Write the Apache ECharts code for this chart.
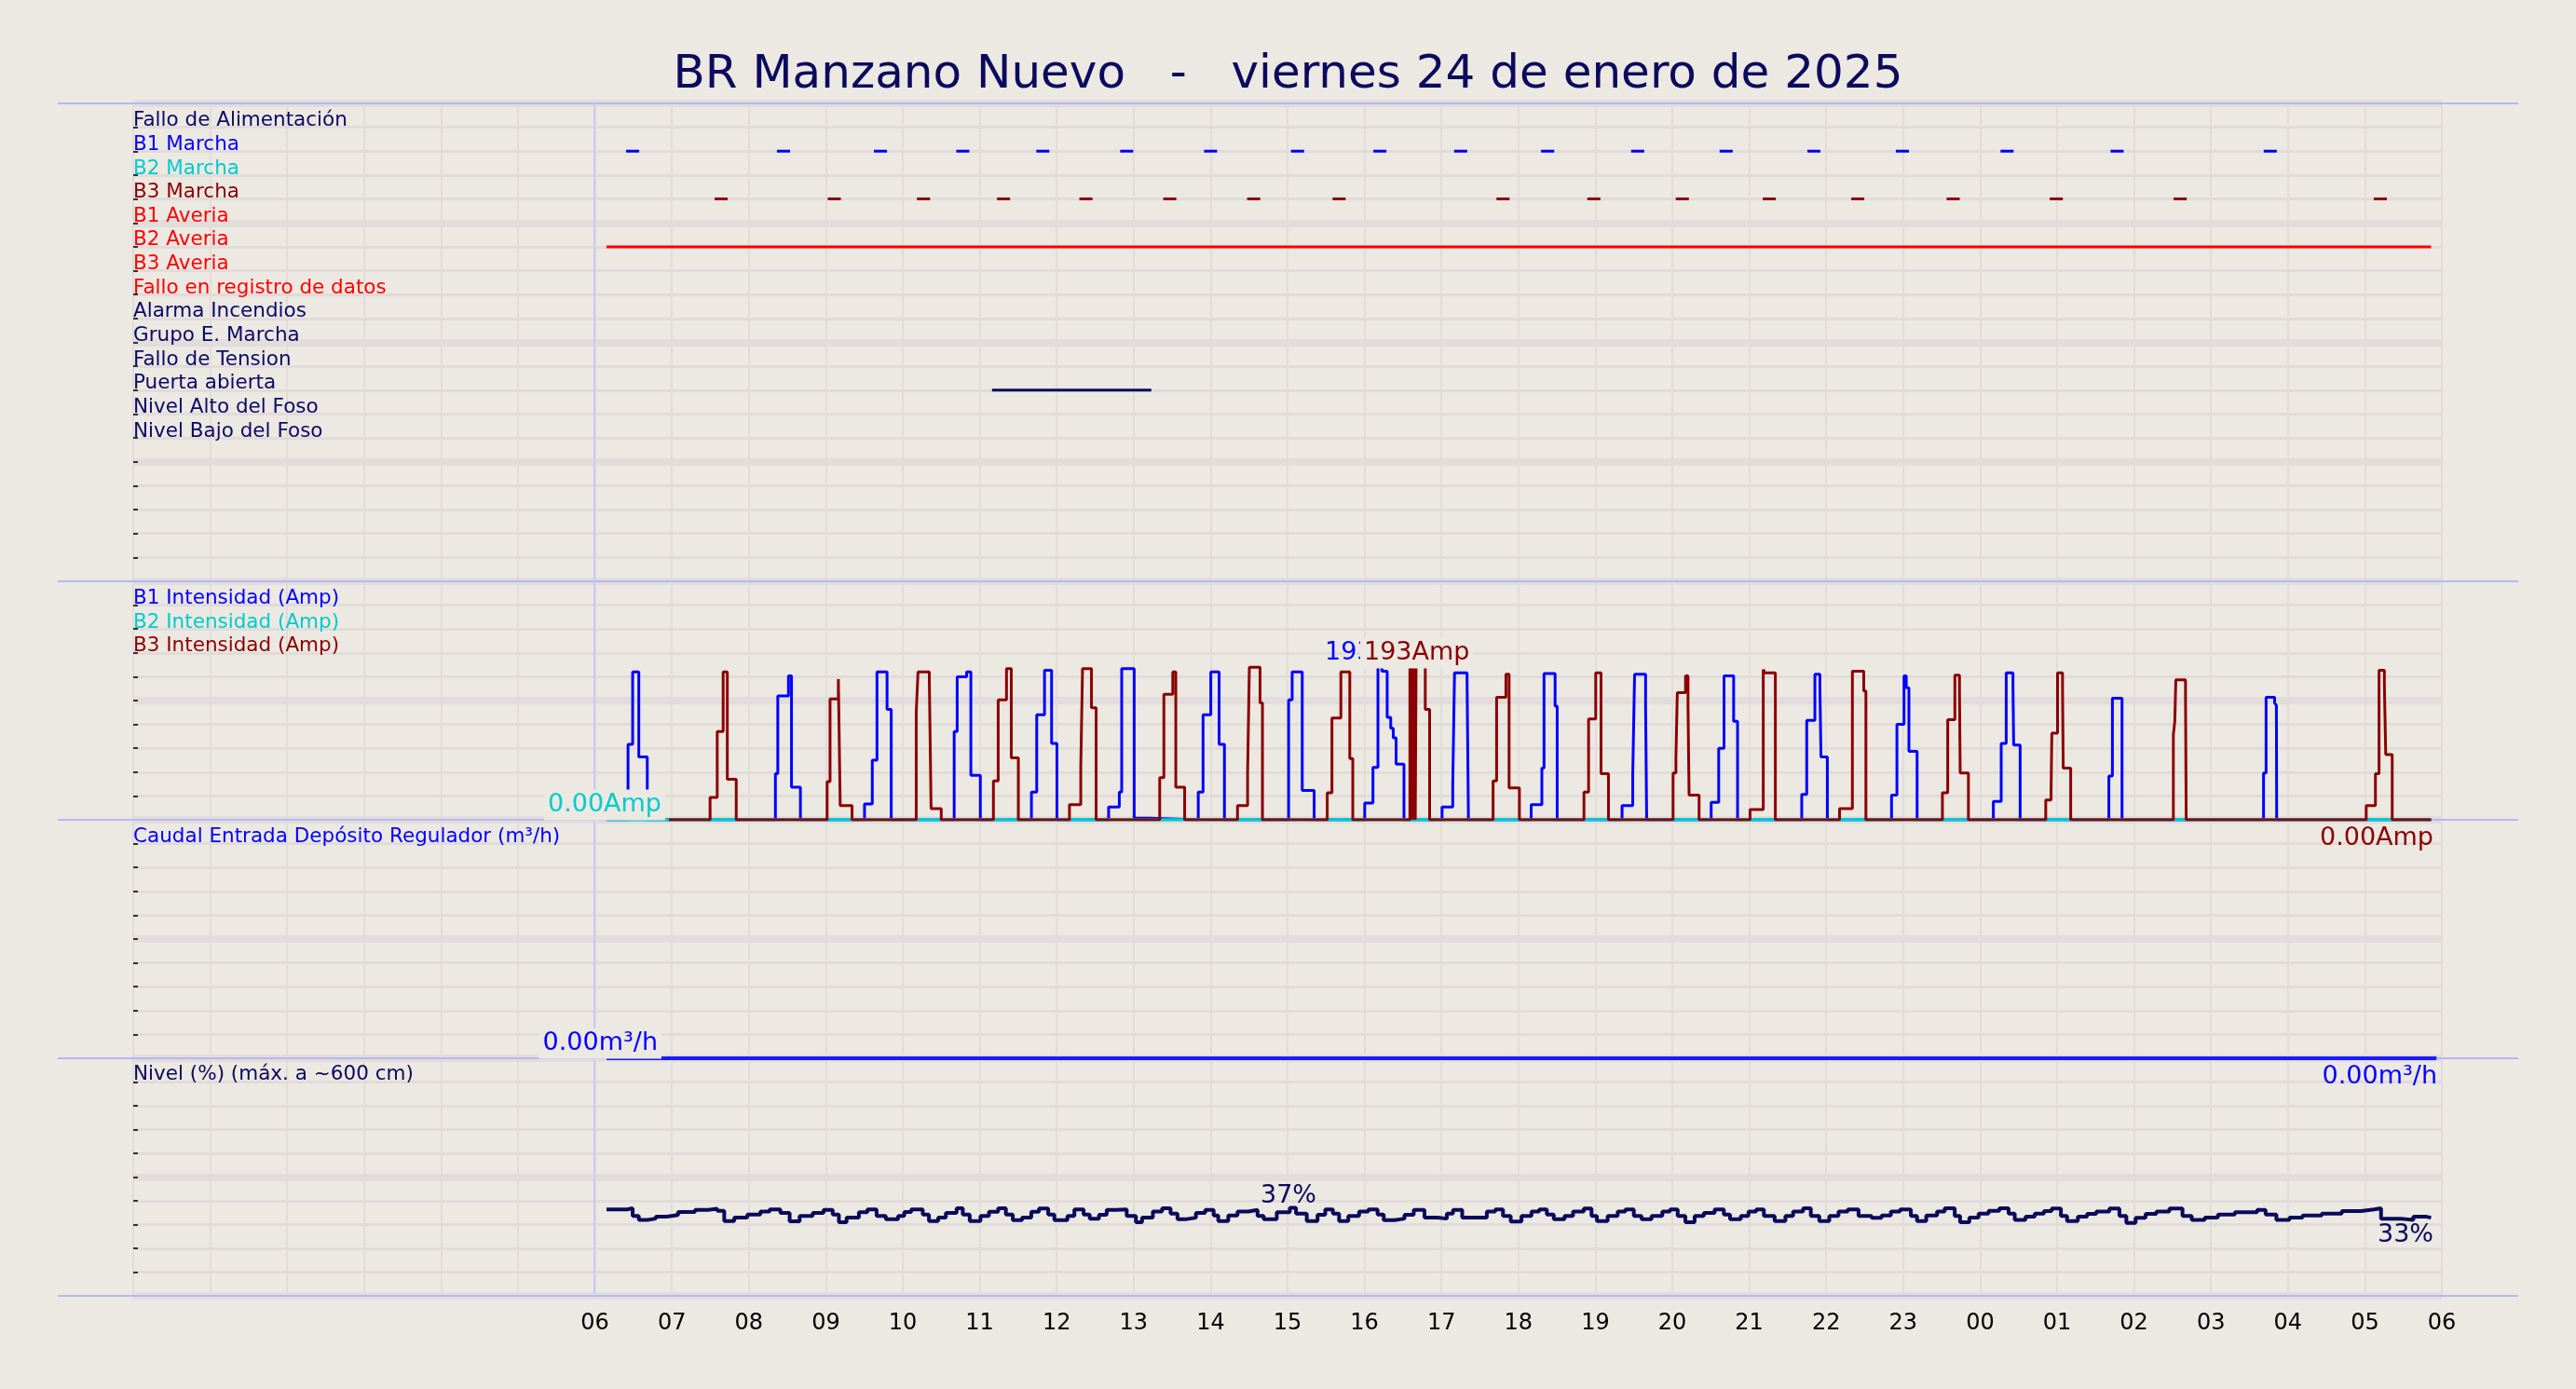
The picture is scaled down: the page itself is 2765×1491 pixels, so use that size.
<!DOCTYPE html>
<html><head><meta charset="utf-8">
<script src="https://cdn.jsdelivr.net/npm/echarts@6/dist/echarts.min.js"></script>
<style>html,body{margin:0;padding:0;background:#ece8e2}#c{width:2765px;height:1491px}</style>
</head><body><div id="c"></div>
<script>
// ---------------- DATA ----------------
const title = 'BR Manzano Nuevo   -   viernes 24 de enero de 2025';
const digitalLabels = ['Fallo de Alimentación','B1 Marcha','B2 Marcha','B3 Marcha','B1 Averia','B2 Averia','B3 Averia','Fallo en registro de datos','Alarma Incendios','Grupo E. Marcha','Fallo de Tension','Puerta abierta','Nivel Alto del Foso','Nivel Bajo del Foso'];
const digitalColors = ['#0a0a66','#0000ff','#00cccc','#8b0000','#ff0000','#ff0000','#ff0000','#ff0000','#0a0a66','#0a0a66','#0a0a66','#0a0a66','#0a0a66','#0a0a66'];
const b1MarchaTimes = [6.49,8.45,9.71,10.78,11.82,12.91,14.0,15.13,16.2,17.25,18.38,19.55,20.7,21.84,22.99,24.35,25.78,27.77];
const b3MarchaTimes = [7.64,9.11,10.27,11.31,12.38,13.47,14.56,15.67,17.8,18.98,20.13,21.26,22.41,23.65,24.99,26.6,29.2];
const b2AveriaSpan = [6.15,29.86];
const puertaSpan = [11.16,13.23];

const b1Pulses = [
 [[6.43,95],[6.49,186],[6.57,79],[6.68,0]],
 [[8.345,58],[8.376,156],[8.515,181],[8.554,41],[8.67,0]],
 [[9.503,20],[9.604,75],[9.665,186],[9.796,139],[9.85,0]],
 [[10.668,111],[10.707,180],[10.83,186],[10.885,56],[11.008,0]],
 [[11.672,35],[11.741,132],[11.842,188],[11.934,96],[12.004,0]],
 [[12.675,16],[12.814,35],[12.845,190],[13.007,2],[13.2,0]],
 [[13.84,35],[13.902,132],[14.003,186],[14.111,95],[14.18,0]],
 [[15.014,151],[15.06,186],[15.191,37],[15.346,0]],
 [[16.003,21],[16.11,66],[16.175,193],[16.226,187],[16.295,129],[16.341,115],[16.374,103],[16.411,70],[16.513,0]],
 [[17.008,16],[17.147,44],[17.17,185],[17.333,175],[17.351,0]],
 [[18.166,19],[18.305,65],[18.333,184],[18.477,143],[18.504,0]],
 [[19.347,18],[19.486,57],[19.51,183],[19.653,141],[19.667,0]],
 [[20.505,22],[20.603,90],[20.672,181],[20.797,124],[20.848,0]],
 [[21.682,32],[21.747,125],[21.853,183],[21.918,166],[21.932,79],[22.015,0]],
 [[22.849,31],[22.919,120],[23.011,181],[23.04,166],[23.075,86],[23.181,0]],
 [[24.172,23],[24.274,96],[24.339,185],[24.427,168],[24.436,94],[24.52,0]],
 [[25.673,55],[25.719,153],[25.844,0]],
 [[27.683,59],[27.716,154],[27.827,147],[27.85,144],[27.854,0]]
];
const b3Pulses = [
 [[7.496,28],[7.589,111],[7.666,186],[7.72,51],[7.836,0]],
 [[9.017,48],[9.055,152],[9.163,177],[9.187,18],[9.341,0]],
 [[10.175,135],[10.198,186],[10.345,176],[10.368,14],[10.5,0]],
 [[11.178,49],[11.24,151],[11.348,190],[11.41,78],[11.502,0]],
 [[12.166,19],[12.313,66],[12.336,190],[12.452,141],[12.513,0]],
 [[13.339,53],[13.393,158],[13.509,186],[13.548,41],[13.663,0]],
 [[14.35,18],[14.481,59],[14.504,192],[14.643,147],[14.674,0]],
 [[15.516,34],[15.577,128],[15.693,186],[15.809,77],[15.848,0]],
 [[16.59,193],[16.6,0],[16.61,193],[16.62,0],[16.63,193],[16.64,0],[16.65,193],[16.66,0],[16.67,193],[16.79,139],[16.846,0]],
 [[17.671,49],[17.717,154],[17.838,183],[17.879,40],[18.013,0]],
 [[18.852,35],[18.912,127],[19.005,185],[19.074,58],[19.171,0]],
 [[20.01,59],[20.047,78],[20.065,160],[20.172,181],[20.204,144],[20.218,31],[20.348,0]],
 [[21.01,13],[21.182,189],[21.2,185],[21.339,0]],
 [[22.173,14],[22.34,187],[22.488,162],[22.516,0]],
 [[23.51,34],[23.579,126],[23.672,182],[23.732,161],[23.741,59],[23.848,0]],
 [[24.853,25],[24.922,36],[24.932,109],[25.006,185],[25.071,164],[25.08,65],[25.177,0]],
 [[26.511,107],[26.53,124],[26.543,176],[26.669,157],[26.678,0]],
 [[29.017,18],[29.137,58],[29.184,188],[29.253,171],[29.271,82],[29.355,0]]
];
const b1Span = [6.15,29.86];
const b2Span = [6.15,29.86];
const b3Span = [6.96,29.86];
const flowData = [[6.15,0],[29.93,0]];
const levelHours = [6.15,6.42,6.49,6.57,6.68,6.79,6.93,7.08,7.30,7.47,7.59,7.68,7.81,7.98,8.15,8.27,8.41,8.53,8.66,8.83,8.97,9.09,9.17,9.27,9.43,9.54,9.66,9.78,9.94,10.02,10.11,10.26,10.34,10.46,10.56,10.70,10.78,10.87,11.01,11.12,11.24,11.34,11.43,11.55,11.67,11.77,11.89,11.97,12.14,12.23,12.35,12.43,12.55,12.65,12.77,12.91,13.03,13.11,13.25,13.37,13.48,13.57,13.69,13.81,13.93,14.04,14.10,14.23,14.35,14.49,14.61,14.69,14.86,15.03,15.11,15.25,15.39,15.49,15.59,15.67,15.79,15.93,16.05,16.17,16.25,16.39,16.52,16.64,16.78,16.95,17.07,17.15,17.27,17.49,17.59,17.70,17.80,17.90,18.04,18.17,18.27,18.37,18.46,18.60,18.71,18.85,18.95,19.02,19.16,19.29,19.39,19.50,19.60,19.73,19.87,19.97,20.07,20.17,20.29,20.41,20.55,20.67,20.75,20.89,20.99,21.09,21.19,21.33,21.47,21.57,21.70,21.80,21.91,22.04,22.16,22.28,22.42,22.59,22.72,22.84,22.96,23.10,23.18,23.30,23.44,23.54,23.67,23.74,23.86,23.98,24.11,24.25,24.37,24.45,24.59,24.71,24.83,24.93,25.05,25.13,25.27,25.39,25.51,25.68,25.81,25.90,26.02,26.15,26.29,26.46,26.63,26.75,26.92,27.09,27.31,27.60,27.71,27.85,28.02,28.19,28.44,28.70,28.95,29.12,29.21,29.46,29.63,29.80,29.86];
const levelPct = [36.4,36.9,33.6,32.0,32.5,33.3,34.0,35.3,36.2,36.7,35.8,31.5,32.9,34.2,35.5,36.4,34.9,31.4,33.6,34.9,36.2,34.2,31.0,32.9,35.2,36.4,33.6,32.3,33.6,35.3,36.4,34.2,31.5,32.9,34.9,36.9,34.2,31.5,33.6,35.4,36.9,34.2,31.9,32.9,35.4,36.8,34.2,31.9,33.6,36.4,34.2,32.5,34.1,36.2,36.4,33.6,31.0,32.9,35.5,36.9,34.6,32.3,32.9,34.9,36.2,33.8,31.5,33.8,35.5,36.2,33.6,32.3,35.2,37.1,34.6,31.5,34.1,36.4,34.6,31.5,33.6,35.5,36.4,34.2,31.9,32.5,34.1,36.2,32.9,32.5,34.6,36.2,32.9,32.9,35.5,36.4,33.6,31.3,33.6,35.5,36.4,34.2,32.3,33.6,35.5,36.8,33.6,31.5,33.6,35.5,36.4,33.6,32.3,33.6,35.5,36.4,33.6,31.0,33.6,34.9,36.4,34.2,32.3,33.6,35.5,36.4,33.6,31.5,33.6,35.5,36.9,33.6,31.5,33.6,35.5,36.4,33.6,32.8,33.8,35.5,36.4,33.6,31.5,33.8,35.5,36.9,33.6,31.0,32.9,34.6,35.8,36.9,34.6,32.0,33.3,34.6,35.7,36.8,33.6,31.5,33.3,34.5,35.5,36.8,33.6,30.7,32.8,34.5,35.5,36.8,33.6,32.0,32.9,34.2,35.2,36.2,34.2,32.0,32.9,33.8,34.6,35.7,36.4,36.9,32.5,32.0,33.3,32.9,32.9];
const hourLabels = ['06','07','08','09','10','11','12','13','14','15','16','17','18','19','20','21','22','23','00','01','02','03','04','05','06'];

// ---------------- LAYOUT ----------------
const W=2765, L=143, R=144;
const panels=[{top:111,h:513},{top:624,h:256},{top:880,h:256},{top:1136,h:255}];
const BG='#ece8e2', GRID='#e1dcd9', GRID2='#e2dddb', NAVY='#0a0a5e';
const FONT='DejaVu Sans';

function segs(times,row,half){const d=[];times.forEach(t=>{d.push([t-half,row],[t+half,row],[t+half,null]);});return d;}
function pulseSeries(pulses,span){const d=[[span[0],0]];pulses.forEach(p=>p.forEach(q=>d.push(q)));d.push([span[1],0]);return d;}

const grids=panels.map(p=>({left:L,right:R,top:p.top,height:p.h}));
const xAxes=panels.map((p,i)=>({gridIndex:i,type:'value',min:0,max:30,interval:1,
  axisLine:{show:false},axisTick:{show:false},
  splitLine:{show:true,lineStyle:{color:GRID,width:2}},
  axisLabel:{show:i===3,color:'#000',fontSize:24,fontFamily:FONT,margin:18,
    formatter:v=>v<6?'':hourLabels[v-6]}}));
const yDefs=[{min:-1,max:19,interval:1,inv:true,big:5},{min:0,max:300,interval:30,big:150},{min:0,max:10,interval:1,big:5},{min:0,max:100,interval:10,big:50}];
const yAxes=[];
yDefs.forEach((d,i)=>{
  yAxes.push({gridIndex:i,type:'value',min:d.min,max:d.max,interval:d.interval,inverse:!!d.inv,position:'right',
    axisLine:{show:false},axisLabel:{show:false},axisTick:{show:true,length:5,lineStyle:{color:'#333',width:2}},
    splitLine:{show:true,lineStyle:{color:GRID,width:3}}});
  yAxes.push({gridIndex:i,type:'value',min:d.min,max:d.max,interval:d.big,inverse:!!d.inv,position:'right',
    axisLine:{show:false},axisLabel:{show:false},axisTick:{show:false},
    splitLine:{show:true,lineStyle:{color:GRID2,width:8}}});
});
const ya=i=>i*2;
const series=[];
const ln=(c,w)=>({color:c,width:w});
series.push({type:'line',xAxisIndex:0,yAxisIndex:ya(0),data:segs(b1MarchaTimes,1,0.085),symbol:'none',lineStyle:ln('#0000ff',3),connectNulls:false,z:5});
series.push({type:'line',xAxisIndex:0,yAxisIndex:ya(0),data:segs(b3MarchaTimes,3,0.085),symbol:'none',lineStyle:ln('#8b0000',3),connectNulls:false,z:5});
series.push({type:'line',xAxisIndex:0,yAxisIndex:ya(0),data:[[b2AveriaSpan[0],5],[b2AveriaSpan[1],5]],symbol:'none',lineStyle:ln('#ff0000',3),z:5});
series.push({type:'line',xAxisIndex:0,yAxisIndex:ya(0),data:[[puertaSpan[0],11],[puertaSpan[1],11]],symbol:'none',lineStyle:ln(NAVY,3),z:5});
series.push({type:'line',xAxisIndex:1,yAxisIndex:ya(1),step:'end',data:pulseSeries(b1Pulses,b1Span),symbol:'none',lineStyle:ln('#0000ff',3),z:5});
series.push({type:'line',xAxisIndex:1,yAxisIndex:ya(1),data:[[b2Span[0],0],[b2Span[1],0]],symbol:'none',lineStyle:ln('#00cccc',3.5),z:6});
series.push({type:'line',xAxisIndex:1,yAxisIndex:ya(1),step:'end',data:pulseSeries(b3Pulses,b3Span),symbol:'none',lineStyle:ln('#8b0000',3),z:7});
series.push({type:'line',xAxisIndex:2,yAxisIndex:ya(2),data:flowData,symbol:'none',lineStyle:ln('#1a1aff',4),z:60});
series.push({type:'line',xAxisIndex:3,yAxisIndex:ya(3),step:'end',data:levelHours.map((h,i)=>[h,levelPct[i]]),symbol:'none',lineStyle:ln('#0a0a5a',4),z:5});

const g=[];
const txt=(x,y,s,c,size,align,bg,extra)=>g.push(Object.assign({type:'text',x,y,z:100,style:{text:s,fill:c,fontSize:size,fontFamily:FONT,align:align||'left',verticalAlign:'middle',backgroundColor:bg||null,padding:bg?[3,4]:0}},extra||{}));
const hl=(y,c,x1,x2)=>g.push({type:'line',z:3,shape:{x1:x1||62,y1:y,x2:x2||2703,y2:y},style:{stroke:c||'#b4b8f4',lineWidth:2}});
panels.forEach(p=>hl(p.top));hl(1391);
g.push({type:'line',z:3,shape:{x1:638,y1:111,x2:638,y2:1391},style:{stroke:'#c8cbf2',lineWidth:2}});
txt(W/2,81,title,NAVY,50,'center');
const rowH=513/20;
digitalLabels.forEach((s,i)=>txt(143,111+rowH*(i+1)-7,s,digitalColors[i],21.5));
txt(143,642,'B1 Intensidad (Amp)','#0000ff',21.5);
txt(143,668,'B2 Intensidad (Amp)','#00cccc',21.5);
txt(143,693,'B3 Intensidad (Amp)','#8b0000',21.5);
txt(143,898,'Caudal Entrada Depósito Regulador (m³/h)','#0000ff',21.5);
txt(143,1153,'Nivel (%) (máx. a ~600 cm)',NAVY,21.5);
txt(714,864,'0.00Amp','#00cccc',27,'right',BG);
txt(1422,701,'193Amp','#0000ff',27,'left');
txt(1460,701,'193Amp','#8b0000',27,'left',BG);
txt(2612,900,'0.00Amp','#8b0000',27,'right');
txt(710,1120,'0.00m³/h','#0000ff',27,'right',BG);
txt(2616,1156,'0.00m³/h','#0000ff',27,'right');
txt(1383,1284,'37%',NAVY,27,'center');
txt(2612,1326,'33%',NAVY,27,'right');

const chart=echarts.init(document.getElementById('c'));
chart.setOption({backgroundColor:BG,animation:false,grid:grids,xAxis:xAxes,yAxis:yAxes,series,graphic:g});
</script></body></html>
